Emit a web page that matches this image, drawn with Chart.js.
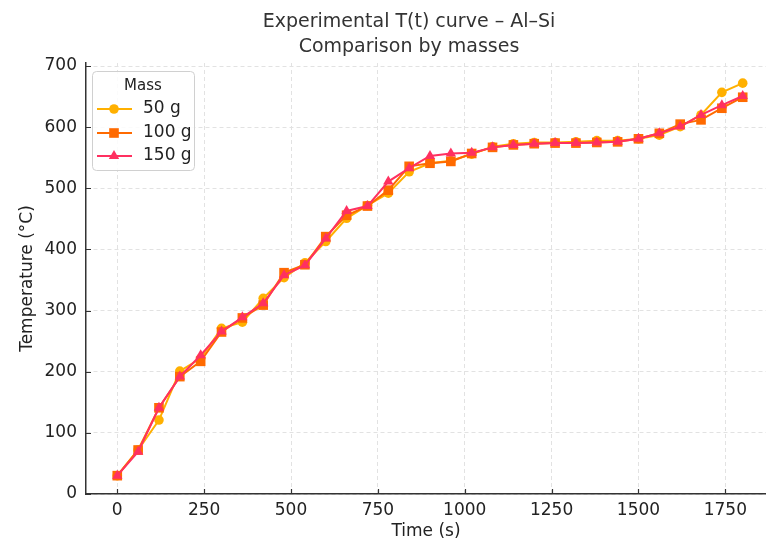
<!DOCTYPE html>
<html>
<head>
<meta charset="utf-8">
<script src="https://cdn.jsdelivr.net/npm/chart.js@4.4.1/dist/chart.umd.min.js"></script>
<style>
  html, body { margin: 0; padding: 0; background: #fff; overflow: hidden; }
  #wrap { width: 766px; height: 543px; }
</style>
</head>
<body>
<div id="wrap"><canvas id="tempChart" width="766" height="543"></canvas></div>
<script>
// Time (s)
const times = [0, 60, 120, 180, 240, 300, 360, 420, 480, 540, 600, 660, 720, 780, 840, 900,
               960, 1020, 1080, 1140, 1200, 1260, 1320, 1380, 1440, 1500, 1560, 1620, 1680, 1740, 1800];
// Temperature (°C) per mass
const temp50 = [30, 72, 121, 201, 222, 271, 281, 320, 354, 378, 413, 451, 472, 492, 527, 541,
                545, 556, 568, 573, 575, 575, 576, 578, 578, 581, 587, 601, 620, 657, 672];
const temp100 = [30, 72, 141, 192, 217, 265, 288, 309, 362, 375, 421, 456, 471, 497, 536, 541,
                 544, 557, 567, 571, 573, 574, 574, 575, 576, 581, 590, 605, 612, 631, 649];
const temp150 = [30, 69, 141, 192, 227, 266, 289, 312, 358, 374, 418, 463, 471, 511, 533, 553,
                 557, 558, 567, 571, 573, 574, 574, 575, 576, 581, 590, 601, 620, 636, 651];
const seriesNames = ['50 g', '100 g', '150 g'];
const xTicks = [0, 250, 500, 750, 1000, 1250, 1500, 1750];
const yTicks = [0, 100, 200, 300, 400, 500, 600, 700];

const colors = ['#FFB000', '#FF6A00', '#FF3060'];
const styles = ['circle', 'rect', 'triangle'];
const radii = [4.8, 6.8, 6];
const FONT = "'DejaVu Sans', sans-serif";

const toPoints = vals => times.map((t, i) => ({ x: t, y: vals[i] }));

function makeSet(i, vals) {
    return {
        label: seriesNames[i],
        data: toPoints(vals),
        borderColor: colors[i],
        backgroundColor: colors[i],
        borderWidth: 2,
        pointStyle: styles[i],
        pointRadius: radii[i],
        pointBorderWidth: 0,
        pointHoverRadius: radii[i],
        tension: 0,
        fill: false,
        order: 3 - i
    };
}

// title + legend box + inward tick marks, drawn on the canvas
const decorations = {
    id: 'decorations',
    afterDraw(chart) {
        const ctx = chart.ctx;
        const xs = chart.scales.x, ys = chart.scales.y;
        const area = chart.chartArea;
        ctx.save();

        // inward ticks
        ctx.strokeStyle = '#333';
        ctx.lineWidth = 1.2;
        ctx.beginPath();
        xTicks.forEach(v => {
            const px = Math.round(xs.getPixelForValue(v)) + 0.5;
            ctx.moveTo(px, area.bottom);
            ctx.lineTo(px, area.bottom - 5);
        });
        yTicks.forEach(v => {
            const py = Math.round(ys.getPixelForValue(v)) + 0.5;
            ctx.moveTo(area.left, py);
            ctx.lineTo(area.left + 5, py);
        });
        ctx.stroke();

        // title
        ctx.fillStyle = '#333';
        ctx.font = '19px ' + FONT;
        ctx.textAlign = 'center';
        ctx.textBaseline = 'middle';
        ctx.fillText('Experimental T(t) curve \u2013 Al\u2013Si', 409, 22);
        ctx.fillText('Comparison by masses', 409, 47);

        // legend
        const bx = 92, by = 71, bw = 102, bh = 99;
        ctx.beginPath();
        ctx.roundRect(bx + 0.5, by + 0.5, bw, bh, 4);
        ctx.fillStyle = 'rgba(255,255,255,0.85)';
        ctx.fill();
        ctx.strokeStyle = '#d0d0d0';
        ctx.lineWidth = 1;
        ctx.stroke();

        ctx.fillStyle = '#222';
        ctx.font = '15px ' + FONT;
        ctx.textAlign = 'center';
        ctx.fillText('Mass', 143, 86);

        const rowY = [109, 133, 156];
        rowY.forEach((y, i) => {
            ctx.strokeStyle = colors[i];
            ctx.fillStyle = colors[i];
            ctx.lineWidth = 2;
            ctx.beginPath();
            ctx.moveTo(97, y);
            ctx.lineTo(132, y);
            ctx.stroke();
            Chart.helpers.drawPoint(ctx, {
                pointStyle: styles[i], radius: radii[i], rotation: 0, borderWidth: 0
            }, 114, y);
            ctx.fillStyle = '#222';
            ctx.font = '17px ' + FONT;
            ctx.textAlign = 'left';
            ctx.fillText(seriesNames[i], 143, y);
        });
        ctx.restore();
    }
};

const ctx = document.getElementById('tempChart').getContext('2d');

new Chart(ctx, {
    type: 'line',
    data: {
        datasets: [makeSet(0, temp50), makeSet(1, temp100), makeSet(2, temp150)]
    },
    options: {
        responsive: false,
        animation: false,
        layout: { autoPadding: false, padding: { top: 63, left: 0, right: 0, bottom: 0 } },
        plugins: {
            legend: { display: false },
            title: { display: false },
            tooltip: { enabled: false }
        },
        scales: {
            x: {
                type: 'linear',
                min: -90,
                max: 1867,
                afterBuildTicks: s => { s.ticks = xTicks.map(v => ({ value: v })); },
                afterFit: s => { s.height = 49; },
                grid: { color: '#e2e2e2', lineWidth: 1, drawTicks: false },
                border: { display: true, color: '#333', width: 1.5, dash: [4, 3] },
                ticks: {
                    color: '#222', font: { family: FONT, size: 17 }, padding: 6, maxRotation: 0,
                    callback: v => String(v)
                },
                title: {
                    display: true, text: 'Time (s)', color: '#222',
                    font: { family: FONT, size: 17 }, padding: { top: 0, bottom: 1 }
                }
            },
            y: {
                type: 'linear',
                min: 0,
                max: 705,
                afterBuildTicks: s => { s.ticks = yTicks.map(v => ({ value: v })); },
                afterFit: s => { s.width = 86; },
                grid: { color: '#e2e2e2', lineWidth: 1, drawTicks: false },
                border: { display: true, color: '#333', width: 1.5, dash: [4, 3] },
                ticks: {
                    color: '#222', font: { family: FONT, size: 17 }, padding: 9,
                    callback: v => String(v)
                },
                title: {
                    display: true, text: 'Temperature (\u00B0C)', color: '#222',
                    font: { family: FONT, size: 17 }, padding: { top: 17, bottom: 0 }
                }
            }
        }
    },
    plugins: [decorations]
});
</script>
</body>
</html>
